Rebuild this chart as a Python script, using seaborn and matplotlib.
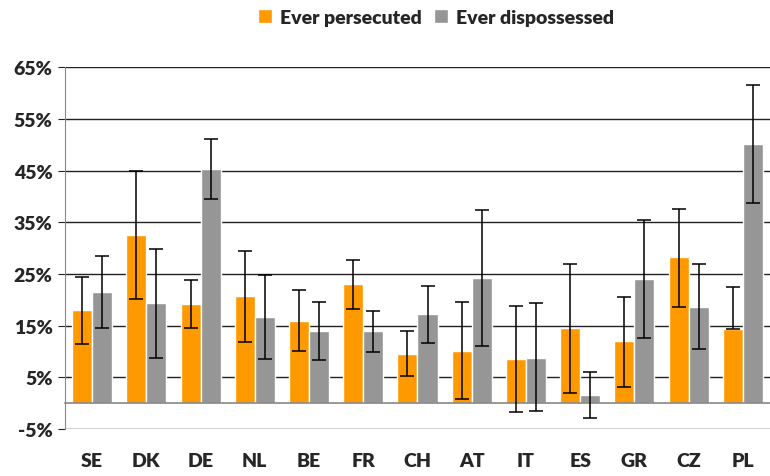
import numpy as np
import pandas as pd
import seaborn as sns
import matplotlib.pyplot as plt
from matplotlib.ticker import FixedLocator, FuncFormatter

countries = ["SE", "DK", "DE", "NL", "BE", "FR", "CH", "AT", "IT", "ES", "GR", "CZ", "PL"]
series = ["Ever persecuted", "Ever dispossessed"]

persecuted = [18.0, 32.5, 19.1, 20.7, 15.9, 23.0, 9.5, 10.1, 8.5, 14.5, 12.0, 28.2, 14.3]
persecuted_lo = [11.4, 20.1, 14.5, 11.8, 10.1, 18.2, 5.2, 0.8, -1.7, 1.9, 3.1, 18.6, 14.3]
persecuted_hi = [24.4, 45.0, 23.8, 29.4, 21.9, 27.7, 13.9, 19.5, 18.8, 26.9, 20.5, 37.5, 22.4]

dispossessed = [21.5, 19.3, 45.3, 16.6, 13.9, 13.9, 17.2, 24.2, 8.7, 1.5, 24.0, 18.6, 50.1]
dispossessed_lo = [14.5, 8.7, 39.5, 8.5, 8.3, 9.9, 11.6, 11.0, -1.5, -2.9, 12.6, 10.4, 38.7]
dispossessed_hi = [28.5, 29.8, 51.1, 24.8, 19.5, 17.9, 22.6, 37.3, 19.3, 6.0, 35.4, 26.9, 61.5]

df = pd.DataFrame({
    "country": countries * 2,
    "group": [series[0]] * len(countries) + [series[1]] * len(countries),
    "value": persecuted + dispossessed,
})

sns.set_style("white")
plt.rcParams["font.family"] = ["Lato", "DejaVu Sans"]

fig = plt.figure(figsize=(7.7, 4.77), dpi=100)
ax = fig.add_axes([0.0844, 0.0985, 0.9156, 0.7583])

sns.barplot(data=df, x="country", y="value", hue="group", order=countries,
            hue_order=series, palette=["#ff9900", "#969696"], width=0.74,
            gap=0, errorbar=None, saturation=1, ax=ax)

# error bars drawn on top of the seaborn bars
lows = [persecuted_lo, dispossessed_lo]
highs = [persecuted_hi, dispossessed_hi]
for cont, lo, hi, vals in zip(ax.containers, lows, highs, [persecuted, dispossessed]):
    xs = [p.get_x() + p.get_width() / 2 for p in cont.patches]
    vals = np.array(vals)
    yerr = [vals - np.array(lo), np.array(hi) - vals]
    ax.errorbar(xs, vals, yerr=yerr, fmt="none", ecolor="black",
                elinewidth=1.1, capsize=5, capthick=1.1, zorder=5)

ax.set_xlim(-0.5, len(countries) - 0.5)
ax.set_ylim(-5, 65)
ax.set_yticks(np.arange(-5, 66, 10))
ax.yaxis.set_major_formatter(FuncFormatter(lambda v, p: f"{v:.0f}%"))
ax.yaxis.grid(True, color="#222222", linewidth=1)
ax.set_axisbelow(True)

for s in ["top", "right"]:
    ax.spines[s].set_visible(False)
ax.spines["bottom"].set_position(("data", 0))
ax.spines["bottom"].set_color("#888888")
ax.spines["left"].set_color("#888888")
ax.spines["bottom"].set_linewidth(1.2)

ax.xaxis.set_minor_locator(FixedLocator(np.arange(-0.5, len(countries), 1)))
ax.tick_params(axis="x", which="minor", length=5, direction="out", color="#888888")
ax.tick_params(axis="x", which="major", length=0, pad=35, labelsize=14)
ax.tick_params(axis="y", which="major", length=5, direction="out", color="#222222",
               labelsize=14, pad=4, left=True)
for lab in ax.get_xticklabels() + ax.get_yticklabels():
    lab.set_fontweight("heavy")
ax.set_xlabel("")
ax.set_ylabel("")

ax.legend(loc="center", bbox_to_anchor=(0.566, 0.962), bbox_transform=fig.transFigure,
          ncol=2, frameon=False, handlelength=0.75, handleheight=0.75,
          handletextpad=0.4, columnspacing=0.6, prop={"weight": "heavy", "size": 14})

fig.savefig("out.png", dpi=100)
